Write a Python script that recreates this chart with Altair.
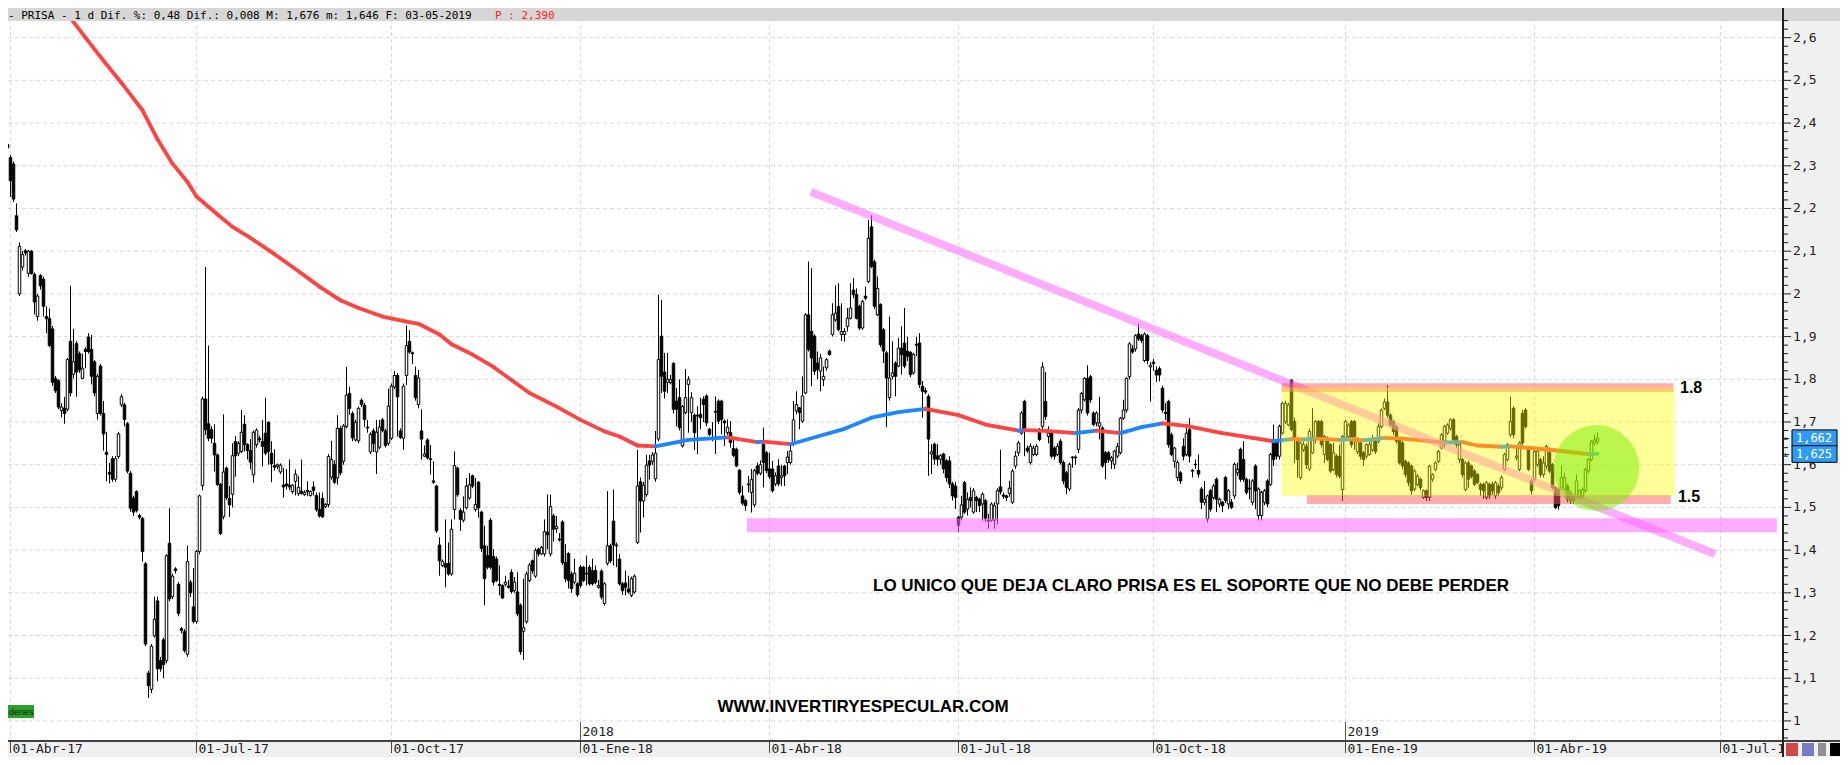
import altair as alt
import pandas as pd

# ---------------- candles (prices in thousandths), trading-day index starts at FIRST_IDX
FIRST_IDX = -3
OPEN = [
 2468,2386,2350,2319,2304,2183,2000,2063,2101,2048,2100,2046,1947,2043,2034,1947,1942,1918,1802,1797,1727,1732,1730,1889,1812,1884,1860,1802,1870,1899,1870,1841,1720,1831,1720,1629,1582,1614,1566,1619,1740,1740,1696,1580,1522,1537,1481,1474,1368,1112,1074,1199,1281,1141,1190,1141,1416,1291,1356,1320,1216,1209,1156,1325,1267,1233,1397,1551,1754,1696,1682,
 1650,1623,1554,1478,1592,1521,1531,1654,1627,1631,1695,1647,1633,1576,1647,1662,1654,1674,1699,1627,1598,1596,1583,1552,1555,1552,1537,1561,1532,1538,1530,1540,1528,1548,1528,1495,1521,1502,1507,1571,1600,1569,1685,1608,1689,1767,1720,1658,1656,1751,1739,1688,1630,1679,1630,1641,1705,1679,1650,1662,1782,1809,1679,1662,1809,1889,1862,1809,1741,1679,1620,1658,1614,1562,1550,
 1412,1364,1368,1369,1344,1495,1592,1493,1470,1499,1522,1574,1495,1559,1489,1410,1387,1470,1385,1379,1320,1317,1320,1316,1348,1305,1302,1271,1210,1232,1329,1375,1339,1402,1391,1391,1442,1391,1480,1450,1426,1466,1371,1392,1344,1325,1321,1360,1360,1346,1360,1352,1352,1313,1351,1275,1369,1410,1468,1412,1379,1321,1323,1309,1294,1302,1418,1560,1515,1530,1609,1608,1567,
 1660,1901,1817,1793,1792,1837,1749,1757,1644,1722,1788,1722,1716,1716,1718,1753,1761,1683,1660,1725,1749,1749,1702,1675,1675,1638,1636,1587,1527,1516,1555,1535,1506,1597,1580,1648,1628,1590,1590,1555,1597,1570,1597,1605,1605,1648,1726,1733,1702,1768,1951,1912,1901,1838,1819,1799,1827,1866,1905,1939,1971,1905,1905,1924,1943,2009,1998,1971,1920,1995,2029,2157,2075,1951,1975,1916,1862,1757,1807,1838,1831,1873,1885,1866,1863,1815,1882,1885,1784,1773,1760,1625,1648,1621,1613,1625,1609,1609,1555,1550,
 1477,1477,1558,1496,1523,1489,1523,1519,1508,1516,1470,1470,1470,1508,1548,1529,1527,1533,1512,1597,1628,1674,1748,1639,1605,1624,1624,1682,1690,1748,1666,1678,1639,1624,1655,1605,1581,1543,1618,1618,1636,1728,1752,1802,1806,1721,1698,1690,1686,1628,1628,1609,1601,1620,1628,1709,1728,1806,1871,1871,1906,1902,1844,1902,1829,1840,1821,1825,1779,1722,1748,1670,1608,1570,1581,1643,1624,1682,1587,1601,1587,1543,1512,1473,1539,1523,1566,1508,1512,1570,1508,1512,1527,1581,1636,1612,1566,1545,1512,1597,1481,1481,1512,1562,1554,1659,1655,1620,1674,1701,
 1693,1798,1701,1658,1570,1635,1643,1590,1628,1658,1701,1701,1624,1662,1647,1589,1620,1620,1542,1662,1666,1701,1701,1631,1651,1628,1620,1624,1635,1655,1655,1689,1732,1747,1716,1701,1689,1658,1651,1608,1604,1597,1543,1554,1566,1523,1539,1523,1566,1589,1608,1639,1647,1674,1685,1705,1666,1612,1612,1542,1604,1597,1585,1577,1554,1554,1523,1554,1554,1527,1550,1546,1589,1612,1670,1732,1616,1589,1720,1728,1635,1562,1566,1600,1612,1577,1597,1628,1600,1546,1542,1546,1542,1550,1535,1527,1527,1523,1527,1539,1585,1612,1650,1654]
HIGH = [
 2480,2390,2362,2325,2310,2212,2121,2100,2105,2103,2103,2050,2000,2046,2040,1971,1966,1925,1808,1800,1744,1759,1850,2019,1918,1890,1865,1860,1875,1908,1904,1845,1812,1836,1749,1677,1604,1620,1620,1677,1765,1745,1700,1585,1527,1540,1485,1478,1372,1118,1180,1291,1291,1150,1195,1390,1498,1345,1360,1325,1220,1215,1411,1330,1358,1400,1530,1760,2063,1879,1690,
 1695,1626,1557,1718,1596,1550,1650,1667,1655,1728,1716,1650,1660,1680,1685,1668,1705,1757,1702,1655,1636,1603,1603,1592,1590,1612,1555,1589,1574,1612,1540,1561,1540,1561,1535,1535,1535,1510,1625,1656,1610,1716,1690,1695,1829,1783,1725,1705,1736,1755,1745,1705,1676,1685,1705,1705,1710,1684,1778,1790,1819,1815,1685,1790,1926,1915,1865,1830,1822,1730,1645,1662,1646,1608,1553,
 1430,1378,1472,1418,1472,1631,1595,1498,1526,1569,1580,1577,1569,1562,1492,1457,1410,1475,1402,1385,1364,1320,1340,1330,1355,1337,1348,1275,1333,1350,1370,1378,1405,1405,1410,1472,1530,1530,1485,1480,1440,1470,1414,1395,1350,1380,1325,1365,1363,1387,1365,1380,1364,1330,1355,1325,1538,1415,1542,1418,1391,1325,1352,1340,1338,1343,1635,1570,1560,1623,1623,1630,1679,
 1998,1986,1862,1862,1810,1840,1780,1800,1740,1824,1807,1770,1720,1737,1757,1760,1765,1686,1700,1760,1753,1752,1706,1706,1702,1660,1640,1590,1550,1520,1574,1590,1590,1605,1610,1687,1632,1628,1609,1582,1613,1600,1600,1632,1644,1749,1772,1735,1807,1955,2076,2060,1905,1865,1860,1830,1850,1870,1978,2020,2025,1978,1920,1967,2025,2037,2013,1975,1986,2017,2173,2184,2080,2041,1978,1920,1866,1947,1889,1842,1897,1924,1967,1900,1866,1862,1900,1908,1796,1780,1765,1648,1652,1648,1625,1628,1613,1620,1560,1560,
 1480,1527,1562,1535,1547,1545,1527,1523,1535,1520,1485,1512,1512,1545,1635,1535,1530,1562,1590,1632,1656,1725,1752,1645,1650,1645,1648,1686,1840,1817,1690,1682,1643,1650,1660,1610,1585,1605,1620,1622,1733,1770,1805,1833,1810,1725,1725,1759,1690,1632,1632,1620,1635,1651,1712,1752,1805,1887,1880,1906,1930,1906,1910,1906,1840,1848,1830,1830,1785,1744,1752,1675,1642,1610,1585,1662,1690,1709,1590,1612,1624,1548,1562,1530,1543,1555,1570,1523,1515,1574,1543,1520,1605,1605,1640,1655,1570,1566,1566,1601,1547,1539,1543,1566,1628,1694,1660,1694,1748,1750,
 1745,1800,1710,1665,1655,1655,1650,1685,1732,1705,1705,1705,1670,1666,1650,1651,1625,1647,1670,1705,1697,1705,1705,1665,1655,1632,1650,1660,1670,1660,1697,1732,1755,1786,1720,1705,1693,1662,1655,1612,1608,1600,1590,1578,1570,1542,1542,1600,1580,1608,1635,1674,1693,1697,1709,1709,1670,1651,1616,1608,1610,1600,1590,1580,1558,1558,1562,1558,1560,1562,1555,1575,1628,1651,1759,1737,1640,1655,1728,1732,1640,1566,1635,1635,1616,1620,1647,1632,1604,1550,1546,1597,1581,1555,1540,1530,1577,1542,1546,1593,1616,1658,1670,1676]
LOW = [
 2380,2323,2314,2227,2215,2145,1995,2055,2090,2040,2045,1952,1937,2010,1947,1908,1875,1785,1768,1730,1711,1696,1725,1760,1802,1759,1815,1800,1826,1860,1788,1760,1706,1715,1633,1561,1556,1560,1560,1614,1735,1690,1580,1490,1480,1488,1472,1373,1175,1054,1065,1195,1093,1115,1100,1135,1280,1285,1345,1245,1205,1160,1150,1290,1228,1228,1390,1540,1670,1655,1650,
 1584,1550,1435,1472,1518,1478,1500,1572,1620,1627,1631,1612,1589,1558,1640,1652,1596,1622,1600,1559,1586,1590,1578,1523,1542,1541,1532,1528,1527,1530,1527,1527,1525,1528,1490,1476,1475,1498,1500,1565,1555,1553,1575,1600,1685,1717,1655,1654,1650,1735,1689,1675,1625,1630,1578,1636,1676,1640,1645,1658,1777,1666,1660,1635,1786,1860,1836,1750,1732,1612,1618,1612,1577,1555,1440,
 1340,1360,1313,1340,1340,1472,1525,1445,1465,1495,1518,1545,1490,1476,1396,1271,1355,1355,1317,1325,1294,1285,1315,1310,1298,1300,1245,1155,1143,1228,1325,1345,1335,1385,1388,1385,1402,1385,1420,1440,1420,1365,1325,1310,1300,1320,1290,1312,1325,1317,1317,1317,1320,1310,1285,1270,1364,1370,1364,1360,1317,1295,1294,1298,1290,1298,1414,1441,1476,1525,1565,1600,1560,
 1655,1768,1755,1768,1788,1720,1690,1680,1640,1718,1675,1700,1635,1625,1683,1700,1690,1667,1655,1625,1695,1671,1644,1670,1640,1618,1594,1530,1505,1492,1535,1488,1500,1575,1575,1547,1580,1566,1535,1550,1550,1550,1550,1578,1600,1644,1718,1683,1698,1765,1865,1784,1810,1800,1772,1784,1820,1855,1900,1935,1912,1890,1888,1912,1940,1990,1940,1915,1916,1985,2025,2060,1965,1948,1875,1838,1688,1750,1800,1760,1828,1811,1826,1843,1805,1811,1854,1780,1710,1765,1574,1578,1600,1597,1600,1580,1560,1545,1516,1496,
 1442,1470,1485,1481,1500,1485,1489,1489,1469,1466,1450,1466,1450,1460,1530,1520,1515,1525,1508,1590,1620,1670,1620,1628,1600,1620,1620,1655,1680,1705,1650,1615,1612,1620,1600,1554,1531,1538,1593,1600,1627,1720,1748,1715,1745,1690,1690,1659,1593,1566,1605,1590,1590,1615,1624,1705,1722,1800,1860,1865,1890,1885,1840,1835,1748,1820,1794,1795,1722,1705,1640,1620,1593,1562,1555,1610,1620,1605,1570,1590,1570,1496,1505,1465,1490,1518,1489,1500,1489,1510,1496,1496,1520,1574,1560,1560,1530,1519,1505,1496,1470,1469,1505,1500,1550,1597,1612,1612,1670,1695,
 1690,1678,1604,1570,1565,1630,1590,1585,1625,1650,1660,1640,1604,1608,1580,1585,1570,1568,1515,1655,1660,1640,1635,1625,1612,1597,1615,1620,1630,1625,1650,1685,1728,1710,1688,1670,1650,1600,1590,1570,1550,1530,1538,1550,1540,1520,1515,1515,1560,1585,1604,1635,1640,1670,1680,1655,1640,1604,1570,1538,1546,1568,1550,1555,1527,1520,1518,1520,1530,1520,1527,1540,1585,1608,1665,1662,1610,1585,1645,1685,1585,1530,1562,1595,1570,1570,1590,1580,1542,1496,1495,1540,1535,1512,1508,1508,1522,1518,1520,1535,1580,1608,1645,1646]
CLOSE = [
 2391,2328,2342,2265,2222,2150,2111,2092,2096,2100,2048,1981,1995,2019,1971,1942,1879,1793,1773,1735,1735,1720,1846,1768,1841,1817,1822,1826,1865,1865,1807,1768,1807,1720,1672,1624,1578,1566,1614,1672,1759,1706,1585,1498,1489,1493,1477,1397,1180,1083,1175,1238,1122,1122,1132,1387,1286,1339,1352,1252,1212,1165,1373,1300,1233,1397,1527,1754,1682,1662,1662,
 1623,1554,1439,1583,1523,1506,1621,1621,1650,1676,1647,1633,1606,1676,1681,1658,1643,1627,1631,1602,1594,1600,1599,1548,1551,1548,1552,1578,1547,1533,1535,1537,1537,1540,1495,1480,1478,1507,1619,1612,1559,1685,1581,1691,1763,1732,1663,1699,1732,1741,1706,1686,1671,1650,1676,1688,1680,1645,1737,1784,1809,1759,1664,1784,1879,1864,1860,1757,1803,1660,1625,1616,1612,1559,1445,
 1375,1374,1360,1344,1449,1598,1530,1472,1489,1550,1553,1550,1507,1499,1404,1333,1360,1360,1325,1329,1317,1288,1325,1313,1303,1325,1251,1162,1218,1344,1365,1352,1399,1391,1406,1443,1436,1502,1449,1455,1424,1371,1333,1329,1310,1346,1295,1317,1329,1344,1321,1321,1325,1317,1290,1321,1410,1375,1412,1410,1321,1305,1313,1302,1333,1339,1550,1515,1552,1599,1599,1623,1627,
 1846,1807,1772,1800,1799,1730,1730,1687,1736,1757,1800,1757,1675,1714,1710,1741,1698,1671,1662,1723,1702,1706,1698,1688,1652,1622,1597,1535,1510,1504,1553,1565,1586,1580,1600,1605,1586,1572,1539,1574,1555,1574,1574,1618,1632,1705,1741,1722,1761,1951,1870,1850,1819,1823,1850,1807,1846,1858,1951,1955,1916,1912,1912,1943,1967,1998,1943,1920,1982,1990,2130,2064,1971,2013,1881,1866,1803,1803,1815,1807,1873,1858,1831,1854,1811,1858,1880,1788,1772,1770,1660,1630,1613,1613,1621,1590,1570,1555,1527,1523,
 1458,1506,1489,1519,1516,1539,1516,1504,1531,1473,1468,1508,1504,1539,1537,1526,1523,1545,1585,1620,1651,1721,1678,1632,1643,1639,1643,1659,1829,1713,1674,1620,1620,1643,1605,1562,1547,1601,1616,1616,1728,1767,1802,1721,1752,1694,1721,1698,1597,1605,1612,1616,1632,1643,1709,1728,1802,1883,1864,1902,1895,1891,1906,1844,1833,1837,1810,1810,1728,1720,1647,1624,1639,1605,1562,1620,1674,1620,1585,1600,1578,1512,1519,1527,1496,1550,1519,1519,1504,1516,1539,1500,1601,1589,1566,1566,1535,1543,1562,1539,1543,1535,1539,1508,1624,1612,1620,1690,1744,1744,
 1740,1682,1658,1612,1651,1647,1600,1678,1658,1701,1666,1647,1666,1612,1585,1628,1577,1573,1666,1701,1693,1647,1666,1655,1620,1612,1647,1647,1658,1631,1689,1728,1747,1716,1693,1678,1655,1604,1597,1577,1558,1539,1585,1573,1546,1539,1523,1597,1577,1604,1631,1670,1689,1693,1705,1658,1647,1647,1577,1604,1566,1573,1554,1558,1542,1539,1558,1527,1539,1558,1535,1570,1624,1647,1701,1670,1620,1651,1651,1689,1589,1539,1631,1631,1577,1604,1643,1585,1546,1500,1504,1570,1570,1519,1515,1515,1562,1539,1542,1589,1612,1654,1658,1662]

# ---------------- moving average (index, value, trend of following segment)
MA_IDX = [19,25,31,37,44,49,54,59,62,69,74,80,88,96,103,110,116,124,132,136,143,147,154,161,168,173,182,190,198,203,
          209,215,226,239,249,251,260,269,278,287,296,305,316,325,336,338,345,355,362,370,377,384,392,403,414,421,427,431,435,443,
          447,451,458,464,478,484,489,497,500,513,522,526,529]
MA_VAL = [2.655,2.600,2.546,2.494,2.430,2.362,2.305,2.262,2.228,2.186,2.157,2.131,2.093,2.053,2.017,1.985,1.967,1.947,1.935,1.930,
          1.905,1.882,1.858,1.829,1.793,1.768,1.736,1.705,1.678,1.666,1.645,1.643,1.658,1.664,1.653,1.654,1.648,1.666,1.684,1.710,
          1.723,1.731,1.716,1.694,1.680,1.681,1.679,1.674,1.680,1.674,1.688,1.697,1.691,1.675,1.663,1.655,1.660,1.659,1.661,1.658,
          1.660,1.657,1.663,1.661,1.652,1.653,1.645,1.642,1.643,1.635,1.628,1.625,1.626]
MA_TREND = list("ddddddddddddddddddddddddddddddd" + "uudud" + "uuuuu" + "dddud" + "duduu" + "ddddu" + "dudud" + "uddud" + "duddd" + "uu")

# ---------------- axes
X_TICK_IDX = [0, 62, 127, 190, 253, 316, 381, 445, 508, 570]
X_TICK_LABELS = ["01-Abr-17", "01-Jul-17", "01-Oct-17", "01-Ene-18", "01-Abr-18",
                 "01-Jul-18", "01-Oct-18", "01-Ene-19", "01-Abr-19", "01-Jul-19"]
YEAR_IDX = [190, 445]
YEAR_LABELS = ["2018", "2019"]
Y_TICKS = [1.0, 1.1, 1.2, 1.3, 1.4, 1.5, 1.6, 1.7, 1.8, 1.9, 2.0, 2.1, 2.2, 2.3, 2.4, 2.5, 2.6]
Y_LABELS = ["1", "1,1", "1,2", "1,3", "1,4", "1,5", "1,6", "1,7", "1,8", "1,9",
            "2", "2,1", "2,2", "2,3", "2,4", "2,5", "2,6"]
PRICE_TAGS = [1.662, 1.625]
PRICE_TAG_LABELS = ["1,662", "1,625"]

# ---------------- drawn annotations (data units: trading-day index, price)
TREND_LINE = {"i": [266.8], "i2": [568.2], "p": [2.239], "p2": [1.391]}
SUPPORT_BAND = {"i": [245.5], "i2": [588.8], "p": [1.4745], "p2": [1.4417]}
RANGE_BOX = {"i": [423.7], "i2": [554.8], "p": [1.780], "p2": [1.527]}
RANGE_LINES = {"i": [423.7, 432.1], "i2": [554.3, 553.4], "p": [1.791, 1.529], "p2": [1.770, 1.508]}
CIRCLE = {"i": [528.6], "p": [1.592]}
LEVEL_TEXT = {"i": [556.5, 555.8], "p": [1.7796, 1.524], "t": ["1.8", "1.5"]}
NOTE_TEXT = {"i": [393.5, 284.2], "p": [1.316, 1.0325],
             "t": ["LO UNICO QUE DEJA CLARO PRISA ES EL SOPORTE QUE NO DEBE PERDER",
                   "WWW.INVERTIRYESPECULAR.COM"]}
HEADER_TEXT = "- PRISA -   1 d Dif. %: 0,48 Dif.: 0,008 M: 1,676 m: 1,646 F: 03-05-2019"
HEADER_RED = "P : 2,390"

# ---------------- build tables
n = min(len(OPEN), len(HIGH), len(LOW), len(CLOSE))
cd = pd.DataFrame({
    "i": [FIRST_IDX + k for k in range(n)],
    "o": [v / 1000 for v in OPEN[:n]],
    "h": [v / 1000 for v in HIGH[:n]],
    "l": [v / 1000 for v in LOW[:n]],
    "c": [v / 1000 for v in CLOSE[:n]],
})
cd["h"] = cd[["h", "o", "c"]].max(axis=1)
cd["l"] = cd[["l", "o", "c"]].min(axis=1)
cd["dir"] = ["down" if c < o else "up" for o, c in zip(cd["o"], cd["c"])]
BODY_HALF = 0.42  # half body width, in trading days
cd["i0"] = cd["i"] - BODY_HALF
cd["i1"] = cd["i"] + BODY_HALF

ma = pd.DataFrame({
    "i": MA_IDX[:-1], "i2": MA_IDX[1:],
    "p": MA_VAL[:-1], "p2": MA_VAL[1:],
    "t": MA_TREND[:len(MA_IDX) - 1],
})

W, H = 1774, 722
PR, PB = 58, 17
XS = alt.Scale(domain=[-0.8333, 590.5], nice=False, zero=False)
YS = alt.Scale(domain=[0.9553, 2.6461], nice=False, zero=False)


def X(f="i"):
    return alt.X(f"{f}:Q", scale=XS, axis=None)


def Y(f="p"):
    return alt.Y(f"{f}:Q", scale=YS, axis=None)


one = pd.DataFrame({"a": [0]})
MONO = "DejaVu Sans Mono"

ygrid = alt.Chart(pd.DataFrame({"p": Y_TICKS})).mark_rule(
    color="#d9d9d9", strokeDash=[4, 3], strokeWidth=1).encode(
    y=Y(), x=alt.value(0), x2=alt.value(W))
xgrid = alt.Chart(pd.DataFrame({"i": X_TICK_IDX})).mark_rule(
    color="#d9d9d9", strokeDash=[4, 3], strokeWidth=1).encode(
    x=X(), y=alt.value(0), y2=alt.value(H))

wicks = alt.Chart(cd).mark_rule(color="black", strokeWidth=1).encode(
    x=X(), y=Y("l"), y2="h:Q")
bodies = alt.Chart(cd).mark_rect(stroke="black", strokeWidth=1).encode(
    x=X("i0"), x2="i1:Q", y=Y("o"), y2="c:Q",
    fill=alt.Fill("dir:N", scale=alt.Scale(domain=["down", "up"], range=["#000000", "#ffffff"]), legend=None))

ma_line = alt.Chart(ma).mark_rule(strokeWidth=3.8, strokeCap="round", clip=True).encode(
    x=X(), x2="i2:Q", y=Y(), y2="p2:Q",
    color=alt.Color("t:N", scale=alt.Scale(domain=["d", "u"], range=["#ff4242", "#1a86ff"]), legend=None))

support = alt.Chart(pd.DataFrame(SUPPORT_BAND)).mark_rect(color="#ff66ff", opacity=0.55).encode(
    x=X(), x2="i2:Q", y=Y(), y2="p2:Q")
trend = alt.Chart(pd.DataFrame(TREND_LINE)).mark_rule(color="#ff66ff", opacity=0.55, strokeWidth=8).encode(
    x=X(), x2="i2:Q", y=Y(), y2="p2:Q")
rlines = alt.Chart(pd.DataFrame(RANGE_LINES)).mark_rect(color="#ff5a5a", opacity=0.5).encode(
    x=X(), x2="i2:Q", y=Y(), y2="p2:Q")
rbox = alt.Chart(pd.DataFrame(RANGE_BOX)).mark_rect(color="#ffff00", opacity=0.4).encode(
    x=X(), x2="i2:Q", y=Y(), y2="p2:Q")
circle = alt.Chart(pd.DataFrame(CIRCLE)).mark_point(
    shape="circle", filled=True, color="#77ee00", opacity=0.5, size=86 * 86, strokeWidth=0).encode(
    x=X(), y=Y())

level_txt = alt.Chart(pd.DataFrame(LEVEL_TEXT)).mark_text(
    font="Liberation Sans", fontWeight="bold", fontSize=16, align="left", baseline="middle", color="black").encode(
    x=X(), y=Y(), text="t:N")
note_txt = alt.Chart(pd.DataFrame(NOTE_TEXT)).mark_text(
    font="Liberation Sans", fontWeight="bold", fontSize=17, align="center", baseline="middle", color="black").encode(
    x=X(), y=Y(), text="t:N")

# frame panels
bottom_panel = alt.Chart(one).mark_rect(color="#f0f0f0").encode(
    x=alt.value(0), x2=alt.value(W + PR), y=alt.value(H), y2=alt.value(H + PB))
right_panel = alt.Chart(one).mark_rect(color="#f0f0f0").encode(
    x=alt.value(W), x2=alt.value(W + PR), y=alt.value(-10), y2=alt.value(H + PB))
header = alt.Chart(one).mark_rect(color="#d6d6d6").encode(
    x=alt.value(0), x2=alt.value(W + PR), y=alt.value(-10), y2=alt.value(3))
header_txt = alt.Chart(pd.DataFrame({"t": [HEADER_TEXT]})).mark_text(
    font=MONO, fontSize=11, align="left", baseline="middle", color="black").encode(
    x=alt.value(0), y=alt.value(-2), text="t:N")
header_red = alt.Chart(pd.DataFrame({"t": [HEADER_RED]})).mark_text(
    font=MONO, fontSize=11, align="left", baseline="middle", color="#ff2020").encode(
    x=alt.value(487), y=alt.value(-2), text="t:N")

x_axis_line = alt.Chart(one).mark_rule(color="#404040", strokeWidth=2).encode(
    x=alt.value(0), x2=alt.value(W + PR), y=alt.value(H + 1))
y_axis_line = alt.Chart(one).mark_rule(color="#202020", strokeWidth=2).encode(
    x=alt.value(W + 1), y=alt.value(-10), y2=alt.value(H + PB))
x_ticks = alt.Chart(pd.DataFrame({"i": X_TICK_IDX})).mark_rule(color="#444444").encode(
    x=X(), y=alt.value(H + 1), y2=alt.value(H + 13))
x_labels = alt.Chart(pd.DataFrame({"i": X_TICK_IDX, "t": X_TICK_LABELS})).mark_text(
    font=MONO, fontSize=13, align="left", baseline="middle", dx=2, color="#222222").encode(
    x=X(), y=alt.value(H + 8.5), text="t:N")
year_lines = alt.Chart(pd.DataFrame({"i": YEAR_IDX})).mark_rule(color="#555555").encode(
    x=X(), y=alt.value(H - 18), y2=alt.value(H))
year_labels = alt.Chart(pd.DataFrame({"i": YEAR_IDX, "t": YEAR_LABELS})).mark_text(
    font=MONO, fontSize=13, align="left", baseline="middle", dx=2, color="#222222").encode(
    x=X(), y=alt.value(H - 8), text="t:N")

minor = [round(0.96 + 0.02 * k, 2) for k in range(85)]
minor = [m for m in minor if round(m * 10, 6) != round(m * 10)]
y_minor = alt.Chart(pd.DataFrame({"p": minor})).mark_rule(color="#202020").encode(
    y=Y(), x=alt.value(W + 1), x2=alt.value(W + 6))
y_major = alt.Chart(pd.DataFrame({"p": Y_TICKS})).mark_rule(color="#202020").encode(
    y=Y(), x=alt.value(W + 1), x2=alt.value(W + 9))
y_labels = alt.Chart(pd.DataFrame({"p": Y_TICKS, "t": Y_LABELS})).mark_text(
    font=MONO, fontSize=13, align="left", baseline="middle", color="#222222").encode(
    y=Y(), x=alt.value(W + 11), text="t:N")

tag_df = pd.DataFrame({"p": PRICE_TAGS, "t": PRICE_TAG_LABELS})
tag_df["hi"] = tag_df["p"] + 0.0195
tag_df["lo"] = tag_df["p"] - 0.0195
tags_box = alt.Chart(tag_df).mark_rect(fill="#2e9cf4", stroke="black", strokeWidth=1).encode(
    y=Y("hi"), y2="lo:Q", x=alt.value(W + 10), x2=alt.value(W + 55))
tags_txt = alt.Chart(tag_df).mark_text(font=MONO, fontSize=12, align="center", baseline="middle", color="white").encode(
    y=Y(), x=alt.value(W + 32), text="t:N")
tags_arrow = alt.Chart(tag_df).mark_text(font=MONO, fontSize=9, align="left", baseline="middle", color="black").encode(
    y=Y(), x=alt.value(W + 2), text=alt.value("←"))

orders_box = alt.Chart(one).mark_rect(color="#2ca02c").encode(
    x=alt.value(0), x2=alt.value(26), y=alt.value(687), y2=alt.value(700))
orders_txt = alt.Chart(pd.DataFrame({"t": ["denes"]})).mark_text(
    font="Liberation Sans", fontSize=9, align="left", baseline="middle", color="#0a1a0a").encode(
    x=alt.value(1), y=alt.value(694), text="t:N")

icons = alt.Chart(pd.DataFrame({"x": [W + 4, W + 20, W + 36, W + 48],
                                "x2": [W + 16, W + 32, W + 44, W + 58],
                                "c": ["#d04a4a", "#7b7bc4", "#909090", "#000000"]})).mark_rect().encode(
    x=alt.X("x:Q", scale=None, axis=None), x2="x2:Q",
    y=alt.value(H + 3), y2=alt.value(H + 16),
    color=alt.Color("c:N", scale=None, legend=None))

chart = alt.layer(
    ygrid, xgrid, wicks, bodies, ma_line, support, trend, rlines, rbox, circle,
    level_txt, note_txt,
    bottom_panel, year_lines, year_labels, x_ticks, x_labels, right_panel, header, header_txt, header_red,
    x_axis_line, y_axis_line, y_minor, y_major, y_labels, tags_box, tags_txt, tags_arrow,
    orders_box, orders_txt, icons,
).properties(
    width=W, height=H,
    padding={"left": 0, "top": 10, "right": PR, "bottom": PB},
    autosize=alt.AutoSizeParams(type="none"),
    background="white",
).configure_view(stroke=None)

chart.save("out.html", embed_options={"renderer": "svg", "actions": False})
